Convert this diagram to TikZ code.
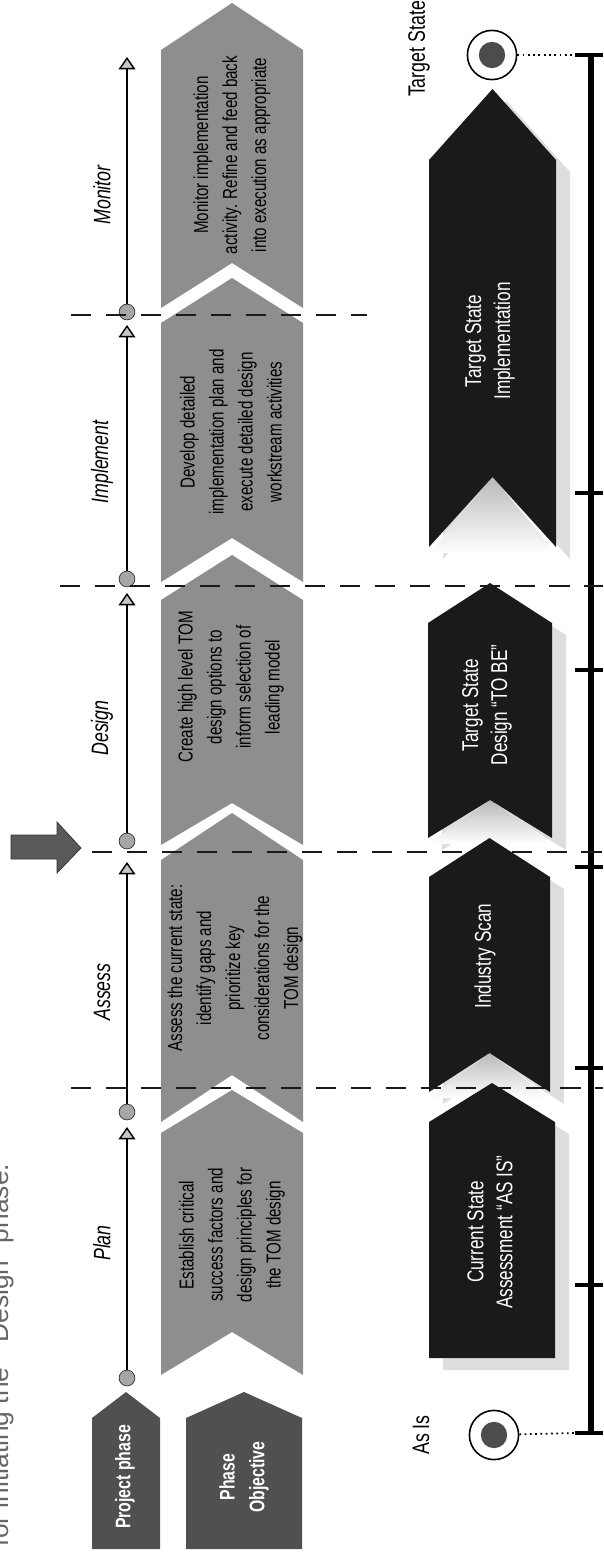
\documentclass[tikz,border=0pt]{standalone}
\usepackage{xcolor}
\usepackage{fontspec}
\setmainfont{Liberation Sans}[FakeStretch=0.75]
\newfontfamily\plainfont{Liberation Sans}
\usepackage{tikz}
\usetikzlibrary{arrows.meta}
\definecolor{objgray}{HTML}{8E8E8E}
\definecolor{headgray}{HTML}{505050}
\definecolor{stagedark}{HTML}{1A1A1A}
\definecolor{shadowgray}{HTML}{DEDEDE}
\begin{document}
\begin{tikzpicture}[x=0.02cm,y=-0.02cm,every node/.style={rotate=90,align=center,inner sep=0pt},
objtext/.style={font=\fontsize{11.5}{16.5}\selectfont,text=black},
stagetext/.style={font=\fontsize{13}{16.5}\selectfont,text=white},
headtext/.style={font=\fontsize{12}{17}\selectfont\bfseries,text=white},
phaselabel/.style={font=\fontsize{13.5}{16}\selectfont\itshape},
endlabel/.style={font=\fontsize{13.5}{16}\selectfont},
phasedot/.style={circle,draw=black!80,fill=gray!70,minimum size=9pt},
phasearrow/.style={-{Triangle[length=7pt,width=9.5pt,fill=gray!45]},black,line width=0.8pt},
gate/.style={black!90,line width=1.5pt,dash pattern=on 11.4pt off 8.5pt},
tick/.style={black,line width=2pt},
endring/.style={circle,draw=black,line width=0.9pt,fill=white,minimum size=28pt},
endcore/.style={circle,fill=black!70,minimum size=15pt}]
\useasboundingbox (0,0) rectangle (603,1555);
\clip (0,0) rectangle (603,1555);
\node[anchor=base,text=black!60,font=\plainfont\fontsize{15}{18}\selectfont] (note) at (8.5,1355) {for initiating the ``Design'' phase.};
% header chevrons
\foreach \xa/\xb in {92/160,186/302}
  \fill[headgray] (\xa,1549) -- (\xa,1418) -- ({(\xa+\xb)/2},1392) -- (\xb,1418) -- (\xb,1549) -- cycle;
\node[headtext] (project) at (125,1477) {Project phase};
\node[headtext] (objective) at (244,1477) {Phase\\Objective};
% objective chevrons
\foreach \tip/\sh/\nt/\cr in {1090/1133/1332/1375,813/860/1075/1122,555/600/803/845,278/323/538/582,3/50/263/308}
  \fill[objgray] (161,\cr) -- (161,\sh) -- (232,\tip) -- (303,\sh) -- (303,\cr) -- (232,\nt) -- cycle;
\node[objtext] (objplan) at (232,1235) {Establish critical\\success factors and\\design principles for\\the TOM design};
\node[objtext] (objassess) at (235,968) {Assess the current state:\\identify gaps and\\prioritize key\\considerations for the\\TOM design};
\node[objtext] (objdesign) at (231,687) {Create high level TOM\\design options to\\inform selection of\\leading model};
\node[objtext] (objimpl) at (231,432) {Develop detailed\\implementation plan and\\execute detailed design\\workstream activities};
\node[objtext] (objmonitor) at (232,155) {Monitor implementation\\activity. Refine and feed back\\into execution as appropriate};
% phase line
\node[phasedot] (plandot) at (127,1378) {};
\node[phasedot] (assessdot) at (127,1112) {};
\node[phasedot] (designdot) at (127,841) {};
\node[phasedot] (impldot) at (127,579) {};
\node[phasedot] (monitordot) at (127,312) {};
\coordinate (plantip) at (127,1127);
\coordinate (assesstip) at (127,862);
\coordinate (designtip) at (127,593);
\coordinate (impltip) at (127,325);
\coordinate (monitortip) at (127,57);
\draw[phasearrow] (plandot) -- (plantip);
\draw[phasearrow] (assessdot) -- (assesstip);
\draw[phasearrow] (designdot) -- (designtip);
\draw[phasearrow] (impldot) -- (impltip);
\draw[phasearrow] (monitordot) -- (monitortip);
\node[phaselabel] (planlabel) at (102,1243) {Plan};
\node[phaselabel] (assesslabel) at (102,992) {Assess};
\node[phaselabel] (designlabel) at (102,728) {Design};
\node[phaselabel] (impllabel) at (102,462) {Implement};
\node[phaselabel] (monitorlabel) at (102,195) {Monitor};
% stage chevrons with shadow
\foreach \xa/\xb/\tip/\sh/\nt/\cr in {429/555/1083/1122/1358/1358,429/550/838/877/1053/1092,428/552/583/623/800/838,429/556/89/160/477/547}
  \fill[shadowgray] (\xa+14,\cr+12) -- (\xa+14,\sh+12) -- ({(\xa+\xb)/2+14},\tip+12) -- (\xb+14,\sh+12) -- (\xb+14,\cr+12) -- ({(\xa+\xb)/2+14},\nt+12) -- cycle;
\foreach \xa/\xb/\nt/\cr in {429/550/1053/1092,428/552/800/838,429/556/477/547}
  \shade[top color=gray!55,bottom color=white] (\xa,\cr+6) -- ({(\xa+\xb)/2},\nt) -- (\xb,\cr+6) -- cycle;
\foreach \xa/\xb/\tip/\sh/\nt/\cr in {429/555/1083/1122/1358/1358,429/550/838/877/1053/1092,428/552/583/623/800/838,429/556/89/160/477/547}
  \fill[stagedark] (\xa,\cr) -- (\xa,\sh) -- ({(\xa+\xb)/2},\tip) -- (\xb,\sh) -- (\xb,\cr) -- ({(\xa+\xb)/2},\nt) -- cycle;
\node[stagetext] (current) at (490,1232) {Current State\\Assessment ``AS IS''};
\node[stagetext] (scan) at (485,956) {Industry Scan};
\node[stagetext] (tobe) at (487,705) {Target State\\Design ``TO BE''};
\node[stagetext] (targetimpl) at (490,341) {Target State\\Implementation};
% timeline
\coordinate (linetop) at (591,55);
\coordinate (linebot) at (591,1433);
\draw[black,line width=3.2pt] (linetop) -- (linebot);
\foreach \ty in {55,493,670,867,1068,1285,1433}
  \draw[tick] (575,\ty) -- (603,\ty);
\node[endring] (asisring) at (494,1435) {};
\node[endcore] (asiscore) at (494,1435) {};
\node[endring] (targetring) at (492,55) {};
\node[endcore] (targetcore) at (492,55) {};
\coordinate (asistick) at (575,1433);
\coordinate (targettick) at (575,55);
\draw[black,line width=1pt,dotted] (asisring) -- (asistick);
\draw[black,line width=1pt,dotted] (targetring) -- (targettick);
\node[endlabel] (asis) at (421,1435) {As Is};
\node[endlabel] (targetstate) at (419,49) {Target State};
% phase gates
\coordinate (gatea) at (71,1088);
\coordinate (gateaend) at (603,1088);
\coordinate (gateb) at (92,852);
\coordinate (gatebend) at (603,852);
\coordinate (gatec) at (60,586);
\coordinate (gatecend) at (603,586);
\coordinate (gated) at (71,315);
\coordinate (gatedend) at (367,315);
\draw[gate] (gatea) -- (gateaend);
\draw[gate] (gateb) -- (gatebend);
\draw[gate] (gatec) -- (gatecend);
\draw[gate] (gated) -- (gatedend);
% you are here
\fill[black!65,draw=black!80] (11,835) -- (57,835) -- (57,822) -- (81,848) -- (57,873) -- (57,859) -- (11,859) -- cycle;
\end{tikzpicture}
\end{document}
